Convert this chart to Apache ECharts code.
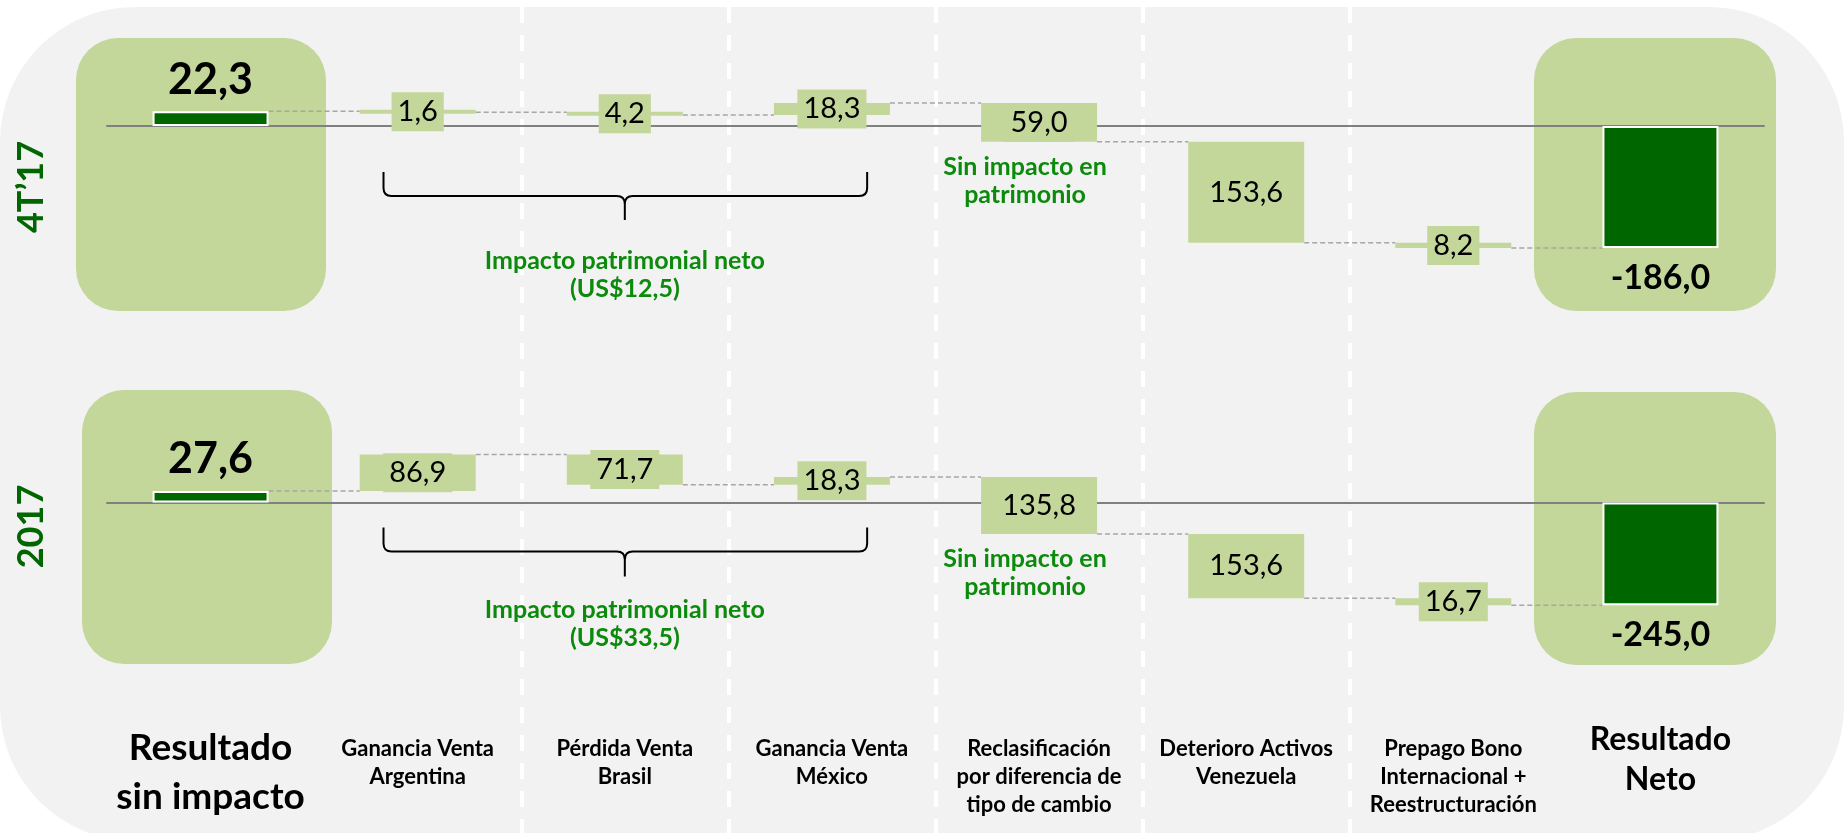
<!DOCTYPE html>
<html>
<head>
<meta charset="utf-8">
<script src="https://cdn.jsdelivr.net/npm/echarts@6/dist/echarts.min.js"></script>
<style>
  html, body { margin: 0; padding: 0; background: #fff; }
  #main { width: 1844px; height: 833px; }
</style>
</head>
<body>
<div id="main"></div>
<script>
// categorias del eje x
var categories = ['Resultado\nsin impacto', 'Ganancia Venta\nArgentina', 'Pérdida Venta\nBrasil',
  'Ganancia Venta\nMéxico', 'Reclasificación\npor diferencia de\ntipo de cambio',
  'Deterioro Activos\nVenezuela', 'Prepago Bono\nInternacional +\nReestructuración', 'Resultado\nNeto'];
var panelNames = ['4T’17', '2017'];

// 4T'17
var start4T = 22.3;
var steps4T = [-1.6, -4.2, 18.3, -59.0, -153.6, -8.2];
var end4T = -186.0;

// 2017
var start2017 = 27.6;
var steps2017 = [86.9, -71.7, 18.3, -135.8, -153.6, -16.7];
var end2017 = -245.0;

var equityNote = 'Impacto patrimonial neto';
var noEquityNote = 'Sin impacto en\npatrimonio';

var BAR = 0.56;
var LIGHT = '#c4d79b';
var DARK = '#006600';
var NOTE = '#0b8a0b';
var FONT = 'Lato';

var panels = [
  { name: panelNames[0], start: start4T, steps: steps4T, end: end4T,
    top: 97, height: 180, min: -230, max: 44, brace: [46, 70, 94], note: 135 },
  { name: panelNames[1], start: start2017, steps: steps2017, end: end2017,
    top: 433, height: 187, min: -280, max: 166, brace: [25, 49, 74], note: 107 }
];

function fmt(v, signed) {
  return (signed ? v : Math.abs(v)).toFixed(1).replace('.', ',');
}

function stepRender(params, api) {
  var cat = api.value(0);
  var p1 = api.coord([cat, api.value(1)]);
  var p2 = api.coord([cat, api.value(2)]);
  var w = api.size([1, 0])[0] * BAR;
  var h = Math.abs(p1[1] - p2[1]);
  var cy = (p1[1] + p2[1]) / 2;
  if (h < 4) h = 4;
  return {
    type: 'group',
    children: [
      { type: 'rect', shape: { x: p1[0] - w / 2, y: cy - h / 2, width: w, height: h }, style: { fill: LIGHT } },
      { type: 'text', x: p1[0], y: cy, style: {
          text: fmt(api.value(3)), font: '29px ' + FONT, fill: '#000',
          align: 'center', verticalAlign: 'middle', backgroundColor: LIGHT, padding: [5, 6]
      } }
    ]
  };
}

function linkRender(params, api) {
  var a = api.coord([api.value(0), api.value(2)]);
  var b = api.coord([api.value(1), api.value(2)]);
  var half = api.size([1, 0])[0] * BAR / 2;
  return {
    type: 'line',
    shape: { x1: a[0] + half, y1: a[1], x2: b[0] - half, y2: b[1] },
    style: { stroke: '#a6a6a6', lineWidth: 1.5, lineDash: [5, 3] }
  };
}

var grids = [], xAxes = [], yAxes = [], series = [];

panels.forEach(function (p, gi) {
  grids.push({ left: 107, right: 80, top: p.top, height: p.height });
  xAxes.push({
    type: 'category', gridIndex: gi, data: categories,
    axisLine: { onZero: true, lineStyle: { color: '#808080', width: 2 } },
    axisTick: { show: false }, axisLabel: { show: false }, splitLine: { show: false }
  });
  yAxes.push({
    type: 'value', gridIndex: gi, min: p.min, max: p.max,
    name: p.name, nameLocation: 'middle', nameRotate: 90, nameGap: 58,
    nameTextStyle: { color: DARK, fontSize: 36, fontWeight: 'bold', fontFamily: FONT },
    axisLine: { show: false }, axisTick: { show: false }, axisLabel: { show: false }, splitLine: { show: false }
  });

  var levels = [p.start];
  p.steps.forEach(function (d, i) { levels.push(+(levels[i] + d).toFixed(1)); });
  var stepRows = p.steps.map(function (d, i) { return [i + 1, levels[i], levels[i + 1], d]; });
  var linkRows = levels.map(function (v, i) { return [i, i + 1, v]; });
  var totals = categories.map(function (c, i) {
    if (i === 0) return { value: p.start, label: { position: 'top', fontSize: 43, distance: 10 } };
    if (i === categories.length - 1) return { value: p.end, label: { position: 'bottom', fontSize: 34, distance: 13 } };
    return '-';
  });
  var equity = p.steps.slice(0, 3).reduce(function (a, b) { return a + b; }, 0);
  var reclBottom = Math.min(levels[3], levels[4]);

  series.push({
    type: 'custom', xAxisIndex: gi, yAxisIndex: gi, z: 3, silent: true,
    renderItem: linkRender, data: linkRows
  });
  series.push({
    type: 'custom', xAxisIndex: gi, yAxisIndex: gi, z: 4, silent: true,
    renderItem: stepRender, data: stepRows
  });
  series.push({
    type: 'bar', xAxisIndex: gi, yAxisIndex: gi, barWidth: BAR * 100 + '%', z: 4, silent: true,
    itemStyle: { color: DARK, borderColor: '#fff', borderWidth: 2 },
    label: { show: true, color: '#000', fontWeight: 'bold', fontFamily: FONT,
      formatter: function (d) { return fmt(d.value, true); } },
    data: totals
  });
  // llave + notas
  series.push({
    type: 'custom', xAxisIndex: gi, yAxisIndex: gi, z: 5, silent: true,
    data: [[1, 3, 2, reclBottom]],
    renderItem: function (params, api) {
      var base = api.coord([api.value(2), 0]);
      var band = api.size([1, 0])[0];
      var x1 = api.coord([api.value(0), 0])[0] - band * 0.165;
      var x2 = api.coord([api.value(1), 0])[0] + band * 0.17;
      var xm = base[0];
      var y0 = base[1] + p.brace[0], y1 = base[1] + p.brace[1], y2 = base[1] + p.brace[2];
      var r = 8;
      var d = 'M' + x1 + ' ' + y0 + ' L' + x1 + ' ' + (y1 - r) +
        ' Q' + x1 + ' ' + y1 + ' ' + (x1 + r) + ' ' + y1 +
        ' L' + (xm - r) + ' ' + y1 + ' Q' + xm + ' ' + y1 + ' ' + xm + ' ' + (y1 + r) +
        ' L' + xm + ' ' + y2 +
        ' M' + xm + ' ' + (y1 + r) + ' Q' + xm + ' ' + y1 + ' ' + (xm + r) + ' ' + y1 +
        ' L' + (x2 - r) + ' ' + y1 + ' Q' + x2 + ' ' + y1 + ' ' + x2 + ' ' + (y1 - r) +
        ' L' + x2 + ' ' + y0;
      var rc = api.coord([4, api.value(3)]);
      return {
        type: 'group',
        children: [
          { type: 'path', shape: { pathData: d }, style: { stroke: '#000', fill: 'none', lineWidth: 2 } },
          { type: 'text', x: xm, y: base[1] + p.note - 14, style: {
              text: equityNote + '\n(US$' + fmt(equity) + ')', font: 'bold 25px ' + FONT, lineHeight: 28,
              fill: NOTE, align: 'center', verticalAlign: 'top' } },
          { type: 'text', x: rc[0] - 14, y: rc[1] + 11, style: {
              text: noEquityNote, font: 'bold 25px ' + FONT, lineHeight: 28,
              fill: NOTE, align: 'center', verticalAlign: 'top' } }
        ]
      };
    }
  });
});

// lineas divisorias (en los limites entre categorias)
grids.push({ left: 107, width: 1657 * 7 / 8, top: 7, bottom: 0 });
xAxes.push({
  type: 'category', gridIndex: 2, data: categories, position: 'top', boundaryGap: false,
  axisLine: { show: false }, axisTick: { show: false }, axisLabel: { show: false },
  splitLine: { show: true, interval: function (i) { return i >= 2 && i <= 6; },
    lineStyle: { color: '#fff', width: 4, type: [16, 12] } }
});
yAxes.push({ type: 'value', gridIndex: 2, show: false });

// etiquetas de categorias
grids.push({ left: 107, right: 80, top: 700, height: 35 });
xAxes.push({
  type: 'category', gridIndex: 3, data: categories,
  axisLine: { show: false }, axisTick: { show: false }, splitLine: { show: false },
  axisLabel: {
    interval: 0, margin: 3, color: '#000', fontFamily: FONT, fontWeight: 'bold',
    fontSize: 22, lineHeight: 28,
    formatter: function (v, i) {
      var parts = v.split('\n');
      if (i === 0) return '{a1|' + parts[0] + '}\n{a2|' + parts[1] + '}';
      if (i === categories.length - 1) return '{b1|' + parts[0] + '}\n{b2|' + parts[1] + '}';
      return v;
    },
    rich: {
      a1: { fontSize: 37, lineHeight: 26, fontWeight: 'bold', fontFamily: FONT, color: '#000' },
      a2: { fontSize: 37, lineHeight: 72, fontWeight: 'bold', fontFamily: FONT, color: '#000' },
      b1: { fontSize: 32, lineHeight: 10, fontWeight: 'bold', fontFamily: FONT, color: '#000' },
      b2: { fontSize: 32, lineHeight: 70, fontWeight: 'bold', fontFamily: FONT, color: '#000' }
    }
  }
});
yAxes.push({ type: 'value', gridIndex: 3, show: false });

var option = {
  animation: false,
  backgroundColor: '#fff',
  graphic: [
    { type: 'rect', z: -10, silent: true, shape: { x: 0, y: 7, width: 1844, height: 834, r: 135 }, style: { fill: '#f2f2f2' } },
    { type: 'rect', z: -9, silent: true, shape: { x: 76, y: 38, width: 250, height: 273, r: 42 }, style: { fill: LIGHT } },
    { type: 'rect', z: -9, silent: true, shape: { x: 1534, y: 38, width: 242, height: 273, r: 42 }, style: { fill: LIGHT } },
    { type: 'rect', z: -9, silent: true, shape: { x: 82, y: 390, width: 250, height: 274, r: 42 }, style: { fill: LIGHT } },
    { type: 'rect', z: -9, silent: true, shape: { x: 1534, y: 392, width: 242, height: 273, r: 42 }, style: { fill: LIGHT } }
  ],
  grid: grids,
  xAxis: xAxes,
  yAxis: yAxes,
  series: series
};

var chart = echarts.init(document.getElementById('main'));
chart.setOption(option);
</script>
</body>
</html>
